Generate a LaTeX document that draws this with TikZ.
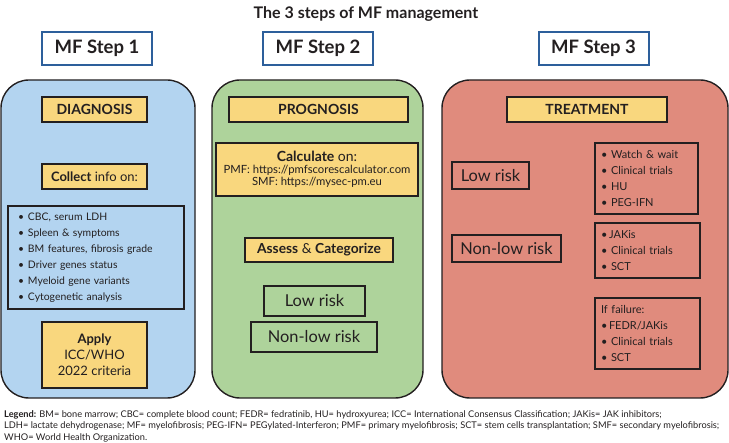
\documentclass[tikz,border=0pt]{standalone}
\usepackage{fontspec}
\setmainfont{Lato}
\definecolor{bluep}{HTML}{B3D4F0}
\definecolor{greenp}{HTML}{AED39B}
\definecolor{redp}{HTML}{E08B7D}
\definecolor{yellowb}{HTML}{F9D77E}
\definecolor{stepblue}{HTML}{2D5F9B}
\definecolor{ink}{HTML}{231F20}
\newcommand{\bul}{\makebox[10pt][l]{\textbullet}}
\begin{document}
\begin{tikzpicture}[x=1pt,y=-1pt,
  every node/.style={text=ink, inner sep=0pt},
  stepbox/.style={draw=stepblue, line width=2pt, fill=white, minimum width=110pt, minimum height=33pt, font=\fontsize{18.5}{21}\selectfont\bfseries},
  panel/.style={draw=ink, line width=1.4pt, rounded corners=28pt},
  ybox/.style={draw=ink, line width=1.2pt, fill=yellowb, align=center},
  lbox/.style={draw=ink, line width=1.2pt, align=center},
  listbox/.style={draw=ink, line width=1.2pt, align=left},
  capsfont/.style={font=\fontsize{14}{16}\selectfont\bfseries},
  riskfont/.style={font=\fontsize{16.4}{18}\selectfont},
  legfont/.style={font=\fontsize{9.25}{10}\selectfont}
]
\useasboundingbox (0,0) rectangle (729,443);
\node[font=\fontsize{16}{19}\selectfont\bfseries] (title) at (366,14) {The 3 steps of MF management};
\node[stepbox] (s1) at (97,48.5) {MF Step 1};
\node[stepbox] (s2) at (318,48.5) {MF Step 2};
\node[stepbox] (s3) at (593.5,48.5) {MF Step 3};
% panels
\node[panel, fill=bluep, minimum width=194pt, minimum height=318pt] (p1) at (98,239) {};
\node[panel, fill=greenp, minimum width=211pt, minimum height=318pt] (p2) at (317.5,239) {};
\node[panel, fill=redp, minimum width=286pt, minimum height=318pt] (p3) at (585,239) {};
% step 1
\node[ybox, minimum width=105pt, minimum height=25pt, capsfont] (diag) at (94.5,109.5) {DIAGNOSIS};
\node[ybox, minimum width=105pt, minimum height=25pt, font=\fontsize{13}{15}\selectfont] (coll) at (94.5,176.5) {\textbf{Collect} info on:};
\node[listbox, text width=156pt, inner xsep=10pt, minimum height=103pt, font=\fontsize{10.4}{16}\selectfont] (l1) at (96,257.5) {\bul CBC, serum LDH\\\bul Spleen \& symptoms\\\bul BM features, fibrosis grade\\\bul Driver genes status\\\bul Myeloid gene variants\\\bul Cytogenetic analysis};
\node[ybox, minimum width=105pt, minimum height=66pt, font=\fontsize{13}{16}\selectfont] (appl) at (94.5,355) {\textbf{Apply}\\ICC/WHO\\2022 criteria};
% step 2
\node[ybox, minimum width=179pt, minimum height=25pt, capsfont] (prog) at (318.5,109.5) {PROGNOSIS};
\node[ybox, minimum width=202pt, minimum height=53pt] (calc) at (317,169.5) {\fontsize{14}{14}\selectfont\textbf{Calculate} on:\\[0.5pt]\fontsize{11.3}{13.5}\selectfont PMF: https://pmfscorescalculator.com\\\fontsize{11.3}{13.5}\selectfont SMF: https://mysec-pm.eu};
\node[ybox, minimum width=148pt, minimum height=24pt, font=\fontsize{13.8}{15}\selectfont] (asse) at (319,250) {\textbf{Assess} \& \textbf{Categorize}};
\node[lbox, minimum width=101pt, minimum height=30pt, riskfont] (low2) at (314.5,301) {Low risk};
\node[lbox, minimum width=126pt, minimum height=30pt, riskfont] (non2) at (314,337) {Non-low risk};
% step 3
\node[ybox, minimum width=160pt, minimum height=25pt, capsfont] (treat) at (587,109.5) {TREATMENT};
\node[lbox, minimum width=77pt, minimum height=27pt, riskfont] (low3) at (490.5,175.5) {Low risk};
\node[lbox, minimum width=109pt, minimum height=27pt, riskfont] (non3) at (506.5,248.5) {Non-low risk};
\node[listbox, text width=91pt, inner xsep=6pt, minimum height=71pt, font=\fontsize{11}{16}\selectfont] (t1) at (646.5,178.5) {\bul Watch \& wait\\\bul Clinical trials\\\bul HU\\\bul PEG-IFN};
\node[listbox, text width=93pt, inner xsep=6pt, minimum height=55pt, font=\fontsize{11}{16}\selectfont] (t2) at (647.5,250.5) {\makebox[8pt][l]{\textbullet}JAKis\\\bul Clinical trials\\\bul SCT};
\node[listbox, text width=93pt, inner xsep=6pt, minimum height=71pt, font=\fontsize{11}{16}\selectfont] (t3) at (647.5,333.5) {If failure:\\\makebox[8pt][l]{\textbullet}FEDR/JAKis\\\bul Clinical trials\\\bul SCT};
% legend
\node[anchor=west, legfont] (leg1) at (4,414.5) {\textbf{Legend:} BM= bone marrow; CBC= complete blood count; FEDR= fedratinib, HU= hydroxyurea; ICC= International Consensus Classification; JAKis= JAK inhibitors;};
\node[anchor=west, legfont] (leg2) at (4,426) {LDH= lactate dehydrogenase; MF= myelofibrosis; PEG-IFN= PEGylated-Interferon; PMF= primary myelofibrosis; SCT= stem cells transplantation; SMF= secondary myelofibrosis;};
\node[anchor=west, legfont] (leg3) at (4,437.5) {WHO= World Health Organization.};
\end{tikzpicture}
\end{document}
